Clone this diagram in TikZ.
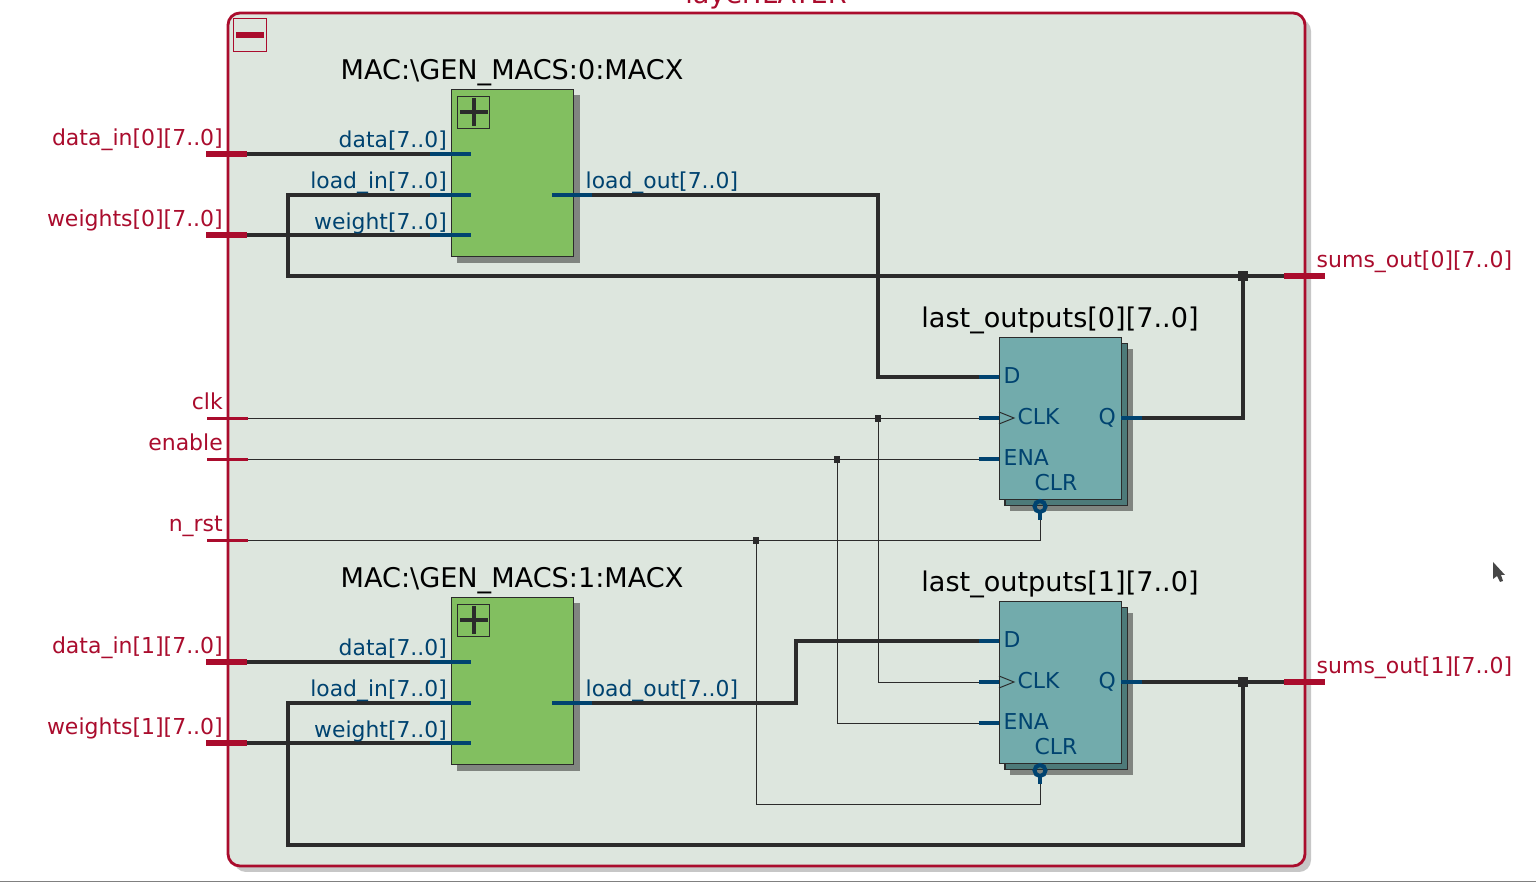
\documentclass[tikz,border=0pt]{standalone}
\usepackage{fontspec}
\setmainfont{DejaVu Sans}
\definecolor{rtlred}{HTML}{AA0C2D}
\definecolor{rtlblue}{HTML}{004370}
\definecolor{rtlwire}{HTML}{2B2B2B}
\definecolor{rtlbg}{HTML}{DDE6DE}
\definecolor{rtlgreen}{HTML}{82BF60}
\definecolor{rtlteal}{HTML}{72ABAC}
\definecolor{rtldeep}{HTML}{4D7A79}
\definecolor{rtlshade}{HTML}{808580}
\tikzset{
  busw/.style={draw=rtlwire, line width=1.14pt},
  bitw/.style={draw=rtlwire, line width=0.28pt},
  pinb/.style={draw=rtlblue, line width=1.14pt},
  pinr/.style={draw=rtlred, line width=1.6pt},
  pint/.style={draw=rtlred, line width=0.6pt},
  macbox/.style={draw=rtlwire, line width=0.3pt, fill=rtlgreen, minimum width=1.22cm, minimum height=1.67cm, inner sep=0pt},
  regbox/.style={draw=rtlwire, line width=0.3pt, fill=rtlteal, minimum width=1.22cm, minimum height=1.62cm, inner sep=0pt},
  regback/.style={draw=rtlwire, line width=0.3pt, fill=rtldeep, minimum width=1.22cm, minimum height=1.62cm, inner sep=0pt},
  regdrop/.style={fill=rtlshade, minimum width=1.22cm, minimum height=1.62cm, inner sep=0pt},
  macdrop/.style={fill=rtlshade, minimum width=1.22cm, minimum height=1.67cm, inner sep=0pt},
  dotb/.style={fill=rtlwire, minimum size=0.1cm, inner sep=0pt},
  dots/.style={fill=rtlwire, minimum size=0.065cm, inner sep=0pt},
  toplab/.style={font=\fontsize{7.71}{9}\selectfont, text=black, anchor=base, inner sep=0pt},
  pinlab/.style={font=\fontsize{6.22}{7}\selectfont, text=rtlblue, inner sep=0pt},
  extlab/.style={font=\fontsize{6.25}{7}\selectfont, text=rtlred, inner sep=0pt},
  expbox/.style={draw=rtlwire, line width=0.22pt, minimum size=0.32cm, inner sep=0pt},
  clrbub/.style={draw=rtlblue, line width=1.14pt, circle, minimum size=0.11cm, inner sep=0pt},
}
\begin{document}
\begin{tikzpicture}[x=0.01cm, y=-0.01cm]
\useasboundingbox (0,0) rectangle (1536,883);

% frame
\fill[black!22, rounded corners=3.4pt] (234,19) rectangle (1311,872);
\draw[draw=rtlred, fill=rtlbg, line width=0.8pt, rounded corners=3.4pt] (228,13) rectangle (1305,866);
\node[extlab, font=\fontsize{7.71}{9}\selectfont, anchor=base] (layername) at (766,4) {layer:LAYER};
\node[draw=rtlred, line width=0.25pt, minimum size=0.33cm, inner sep=0pt] (collapse) at (250,35) {};
\draw[pinr] (236,35) -- (264,35);
\draw[draw=black!50, line width=0.3pt] (0,881.5) -- (1536,881.5);

% mouse pointer
\fill[black!72] (1493,562) -- (1505,575) -- (1501,575) -- (1503,581) -- (1500,582) -- (1497,576) -- (1493,579) -- cycle;

% external ports
\coordinate (din0) at (247,154);
\coordinate (wt0) at (247,235);
\coordinate (din1) at (247,662);
\coordinate (wt1) at (247,743);
\coordinate (clk) at (248,418.5);
\coordinate (ena) at (248,459.5);
\coordinate (rst) at (248,540.5);
\coordinate (sum0) at (1284,276);
\coordinate (sum1) at (1284,682);

% blocks
\node[macdrop] (mac0s) at (518.5,179) {};
\node[macbox] (mac0) at (512.5,173) {};
\node[macdrop] (mac1s) at (518.5,687) {};
\node[macbox] (mac1) at (512.5,681) {};
\node[regdrop] (reg0s) at (1071.5,430) {};
\node[regback] (reg0b) at (1066,424.5) {};
\node[regbox] (reg0) at (1060.5,418.5) {};
\node[regdrop] (reg1s) at (1071.5,694) {};
\node[regback] (reg1b) at (1066,688.5) {};
\node[regbox] (reg1) at (1060.5,682.5) {};

\node[expbox] (exp0) at (473.5,112) {};
\draw[busw] (460,112) -- (488,112);
\draw[busw] (474,98) -- (474,126);
\node[expbox] (exp1) at (473.5,620) {};
\draw[busw] (460,620) -- (488,620);
\draw[busw] (474,606) -- (474,634);

% pins of the blocks
\coordinate (m0d) at (430,154);
\coordinate (m0l) at (430,195);
\coordinate (m0w) at (430,235);
\coordinate (m0o) at (592,195);
\coordinate (m1d) at (430,662);
\coordinate (m1l) at (430,703);
\coordinate (m1w) at (430,743);
\coordinate (m1o) at (592,703);
\coordinate (r0d) at (979,377);
\coordinate (r0c) at (979,418);
\coordinate (r0e) at (979,459);
\coordinate (r0q) at (1142,418);
\coordinate (r0r) at (1040,520);
\coordinate (r1d) at (979,641.5);
\coordinate (r1c) at (979,682);
\coordinate (r1e) at (979,723);
\coordinate (r1q) at (1142,682);
\coordinate (r1r) at (1040,784);

% wires
\draw[busw] (din0) -- (m0d);
\draw[busw] (wt0) -- (m0w);
\draw[busw] (din1) -- (m1d);
\draw[busw] (wt1) -- (m1w);
\draw[busw] (m0l) -| (288,276) -- (sum0);
\draw[busw] (m1l) -| (288,845) -| (1243,682);
\draw[busw] (m0o) -| (878,377) -- (r0d);
\draw[busw] (m1o) -| (796,641.5) -- (r1d);
\draw[busw] (r0q) -| (1243,276);
\draw[busw] (r1q) -- (sum1);
\draw[bitw] (clk) -- (r0c |- clk);
\draw[bitw] (ena) -- (r0e |- ena);
\draw[bitw] (rst) -| (r0r);
\draw[bitw] (878,418.5) |- (r1c);
\draw[bitw] (837,459.5) |- (r1e);
\draw[bitw] (756,540.5) |- (1040,804.5) -- (r1r);

\node[dotb] (j0) at (1243,276) {};
\node[dotb] (j1) at (1243,682) {};
\node[dots] (jclk) at (878,418.5) {};
\node[dots] (jena) at (837,459.5) {};
\node[dots] (jrst) at (756,540.5) {};

% stubs
\draw[pinb] (m0d) -- ++(41,0);
\draw[pinb] (m0l) -- ++(41,0);
\draw[pinb] (m0w) -- ++(41,0);
\draw[pinb] (m0o) -- ++(-40,0);
\draw[pinb] (m1d) -- ++(41,0);
\draw[pinb] (m1l) -- ++(41,0);
\draw[pinb] (m1w) -- ++(41,0);
\draw[pinb] (m1o) -- ++(-40,0);
\draw[pinb] (r0d) -- ++(20,0);
\draw[pinb] (r0c) -- ++(20,0);
\draw[pinb] (r0e) -- ++(20,0);
\draw[pinb] (r0q) -- ++(-21,0);
\draw[pinb] (r1d) -- ++(20,0);
\draw[pinb] (r1c) -- ++(20,0);
\draw[pinb] (r1e) -- ++(20,0);
\draw[pinb] (r1q) -- ++(-21,0);
\draw[pinb] (r0r) -- ++(0,-9);
\draw[pinb] (r1r) -- ++(0,-9);
\node[clrbub] (bub0) at (1040,506.5) {};
\node[clrbub] (bub1) at (1040,770.5) {};
\draw[bitw] (999,412) -- (1014,418) -- (999,424);
\draw[bitw] (999,676) -- (1014,682) -- (999,688);

\draw[pinr] (din0) -- ++(-41,0);
\draw[pinr] (wt0) -- ++(-41,0);
\draw[pinr] (din1) -- ++(-41,0);
\draw[pinr] (wt1) -- ++(-41,0);
\draw[pint] (clk) -- ++(-41,0);
\draw[pint] (ena) -- ++(-41,0);
\draw[pint] (rst) -- ++(-41,0);
\draw[pinr] (sum0) -- ++(41,0);
\draw[pinr] (sum1) -- ++(41,0);

% labels
\node[toplab] (mac0t) at (512,80) {MAC:\textbackslash GEN\_MACS:0:MACX};
\node[toplab] (mac1t) at (512,588) {MAC:\textbackslash GEN\_MACS:1:MACX};
\node[toplab] (reg0t) at (1060,328) {last\_outputs[0][7..0]};
\node[toplab] (reg1t) at (1060,592) {last\_outputs[1][7..0]};

\node[extlab, anchor=base east] (ld0) at (223.5,146) {data\_in[0][7..0]};
\node[extlab, anchor=base east] (lw0) at (223.5,227) {weights[0][7..0]};
\node[extlab, anchor=base east] (lc) at (223.5,410) {clk};
\node[extlab, anchor=base east] (le) at (223.5,451) {enable};
\node[extlab, anchor=base east] (lr) at (223.5,532) {n\_rst};
\node[extlab, anchor=base east] (ld1) at (223.5,654) {data\_in[1][7..0]};
\node[extlab, anchor=base east] (lw1) at (223.5,735) {weights[1][7..0]};
\node[extlab, anchor=base west] (ls0) at (1316,268) {sums\_out[0][7..0]};
\node[extlab, anchor=base west] (ls1) at (1316,674) {sums\_out[1][7..0]};

\node[pinlab, anchor=base east] (p0d) at (447.5,148) {data[7..0]};
\node[pinlab, anchor=base east] (p0l) at (447.5,189) {load\_in[7..0]};
\node[pinlab, anchor=base east] (p0w) at (447.5,230) {weight[7..0]};
\node[pinlab, anchor=base west] (p0o) at (585,189) {load\_out[7..0]};
\node[pinlab, anchor=base east] (p1d) at (447.5,656) {data[7..0]};
\node[pinlab, anchor=base east] (p1l) at (447.5,697) {load\_in[7..0]};
\node[pinlab, anchor=base east] (p1w) at (447.5,738) {weight[7..0]};
\node[pinlab, anchor=base west] (p1o) at (585,697) {load\_out[7..0]};

\node[pinlab, anchor=base west] (q0d) at (1003,384) {D};
\node[pinlab, anchor=base west] (q0c) at (1017,425) {CLK};
\node[pinlab, anchor=base west] (q0e) at (1003,466) {ENA};
\node[pinlab, anchor=base west] (q0r) at (1034,491) {CLR};
\node[pinlab, anchor=base east] (q0q) at (1116.5,425) {Q};
\node[pinlab, anchor=base west] (q1d) at (1003,648) {D};
\node[pinlab, anchor=base west] (q1c) at (1017,689) {CLK};
\node[pinlab, anchor=base west] (q1e) at (1003,730) {ENA};
\node[pinlab, anchor=base west] (q1r) at (1034,755) {CLR};
\node[pinlab, anchor=base east] (q1q) at (1116.5,689) {Q};

\end{tikzpicture}
\end{document}
